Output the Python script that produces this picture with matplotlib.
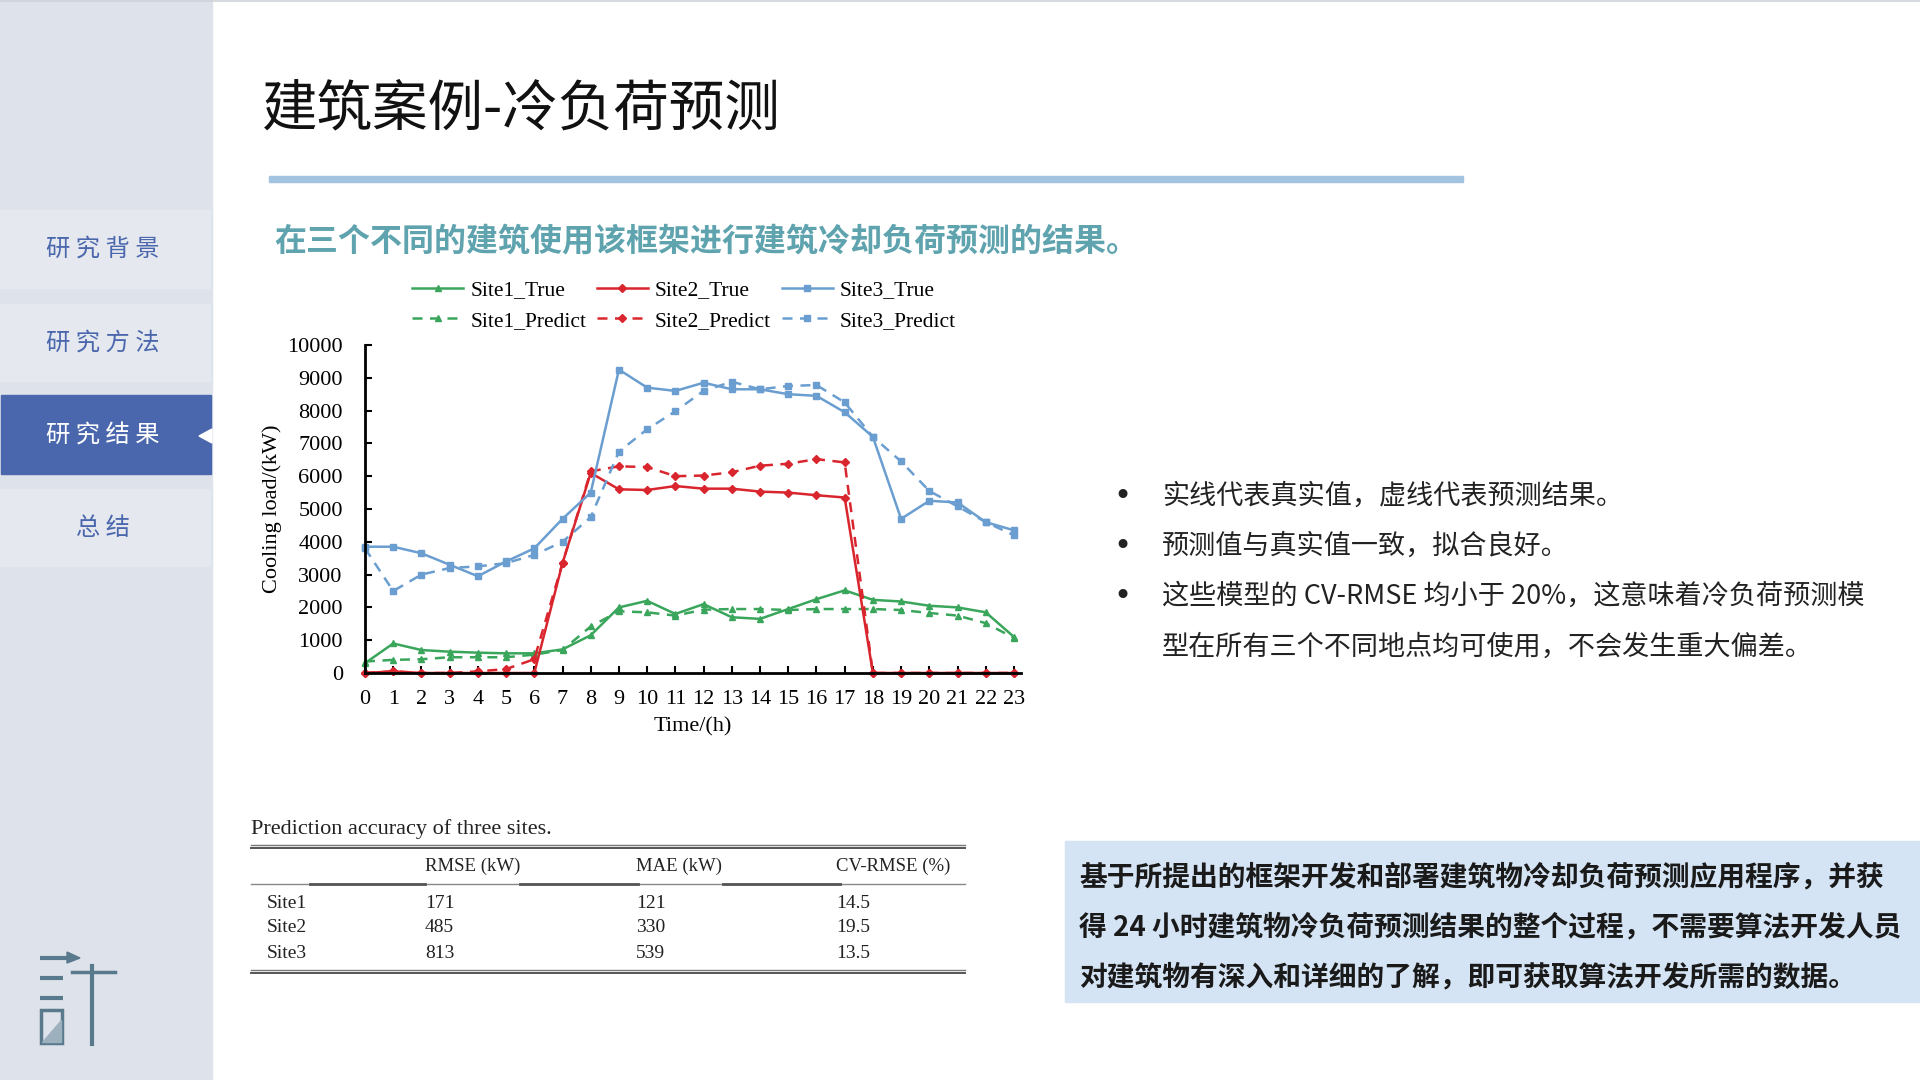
import matplotlib
matplotlib.use("Agg")
import matplotlib.pyplot as plt
from matplotlib.patches import Rectangle, Polygon

CJK = ['Noto Sans CJK SC', 'DejaVu Sans']
SERIF = ['Liberation Serif', 'DejaVu Serif']
plt.rcParams['font.family'] = CJK

# ---------------- data ----------------
hours = list(range(24))
site1_true = [300, 900, 700, 650, 620, 600, 600, 720, 1150, 2000, 2200, 1800,
              2100, 1700, 1650, 1950, 2250, 2520, 2230, 2180, 2050, 2000, 1850, 1100]
site1_pred = [350, 400, 420, 480, 480, 480, 560, 700, 1420, 1880, 1850, 1750,
              1930, 1950, 1950, 1920, 1950, 1950, 1950, 1920, 1830, 1750, 1520, 1070]
site2_true = [0, 50, 0, 0, 0, 0, 0, 3350, 6100, 5600, 5580, 5700,
              5620, 5620, 5530, 5500, 5420, 5350, 0, 0, 0, 0, 0, 0]
site2_pred = [0, 50, 0, 0, 50, 120, 420, 3350, 6150, 6300, 6280, 6000,
              6020, 6120, 6320, 6380, 6520, 6420, 0, 0, 0, 0, 0, 0]
site3_true = [3850, 3850, 3650, 3300, 2950, 3400, 3800, 4700, 5500, 9250, 8700, 8600,
              8850, 8650, 8650, 8500, 8450, 7950, 7200, 4700, 5250, 5200, 4600, 4350]
site3_pred = [3800, 2500, 3000, 3200, 3250, 3350, 3600, 4000, 4750, 6750, 7430, 7980,
              8600, 8880, 8650, 8750, 8780, 8250, 7200, 6450, 5550, 5080, 4600, 4200]
y_ticks = [0, 1000, 2000, 3000, 4000, 5000, 6000, 7000, 8000, 9000, 10000]

table_title = "Prediction accuracy of three sites."
table_header = ["RMSE (kW)", "MAE (kW)", "CV-RMSE (%)"]
table_sites = ["Site1", "Site2", "Site3"]
table_rmse = [171, 485, 813]
table_mae = [121, 330, 539]
table_cv = [14.5, 19.5, 13.5]

menu_items = ["研究背景", "研究方法", "研究结果", "总结"]
active_menu = 2
page_title = "建筑案例-冷负荷预测"
subtitle = "在三个不同的建筑使用该框架进行建筑冷却负荷预测的结果。"
bullets = ["实线代表真实值，虚线代表预测结果。",
           "预测值与真实值一致，拟合良好。",
           "这些模型的 CV-RMSE 均小于 20%，这意味着冷负荷预测模\n型在所有三个不同地点均可使用，不会发生重大偏差。"]
box_lines = ["基于所提出的框架开发和部署建筑物冷却负荷预测应用程序，并获",
             "得 24 小时建筑物冷负荷预测结果的整个过程，不需要算法开发人员",
             "对建筑物有深入和详细的了解，即可获取算法开发所需的数据。"]

# ---------------- figure ----------------
W, H = 1920, 1080
fig = plt.figure(figsize=(19.2, 10.8), dpi=100, facecolor='white')
bg = fig.add_axes([0, 0, 1, 1])
bg.set_xlim(0, W)
bg.set_ylim(H, 0)
bg.axis('off')

# sidebar
bg.add_patch(Rectangle((0, 0), 212, H, color='#DEE2EA', zorder=0))
bg.plot([0, W], [0.5, 0.5], color='#D0D4DA', lw=1.2, zorder=1)
menu_boxes = [(210, 288), (304, 381), (395, 474), (489, 566)]
menu_y = [249, 343, 436, 528]
for i, (label, (y0, y1), yc) in enumerate(zip(menu_items, menu_boxes, menu_y)):
    if i == active_menu:
        bg.add_patch(Rectangle((1, y0), 210, y1 - y0, color='#4A67AE', zorder=1))
        bg.add_patch(Polygon([[199, yc], [212, yc - 7], [212, yc + 7]],
                             closed=True, color='white', zorder=2))
        col = 'white'
    else:
        bg.add_patch(Rectangle((0, y0), 210, y1 - y0, color='#E5E8EE', zorder=1))
        col = '#4A67AE'
    bg.text(103, yc, " ".join(label), ha='center', va='center', fontsize=17.5,
            color=col, family=CJK, zorder=3)

# logo
lc = '#587A8C'
for yy, x1 in [(958, 70), (978, 63), (998, 63)]:
    bg.plot([40, x1], [yy, yy], color=lc, lw=3, solid_capstyle='butt')
bg.add_patch(Polygon([[67, 952], [80, 958], [67, 963]], closed=True, color=lc))
bg.add_patch(Rectangle((41, 1010), 21, 33, fill=False, ec=lc, lw=2.5))
bg.add_patch(Polygon([[42, 1042], [61, 1042], [61, 1020]], closed=True, color='#9DB0BE'))
bg.plot([72, 115], [972, 972], color=lc, lw=2.5)
bg.plot([92, 92], [966, 1044], color=lc, lw=3)

# title
bg.text(262, 110, page_title, fontsize=40, color='#111111', va='center', ha='left', family=CJK)
bg.add_patch(Rectangle((269, 176), 1194, 6, color='#A3C4E0'))
bg.text(274, 241, subtitle, fontsize=23, color='#5EA3AE', fontweight='bold',
        va='center', ha='left', family=CJK)

# bullets
by = [496, 546, 596]
for yy, t in zip(by, bullets):
    bg.text(1122, yy, "•", fontsize=22, color='#222222', va='center', ha='center',
            family=['DejaVu Sans'])
    for k, ln in enumerate(t.split("\n")):
        bg.text(1162, yy + k * 51, ln, fontsize=19.5, color='#222222', va='center',
                ha='left', family=CJK)

# bottom-right box
bg.add_patch(Rectangle((1065, 841), 855, 161, color='#D5E4F4'))
for k, ln in enumerate(box_lines):
    bg.text(1079, 877 + k * 50, ln, fontsize=20, fontweight='bold', color='#1A1A1A',
            va='center', ha='left', family=CJK)

# table
tc = '#222222'
bg.text(251, 829, table_title, fontsize=16, family=SERIF, color=tc, va='center')
bg.plot([251, 965], [845, 845], color='#777777', lw=1.0)
bg.plot([251, 965], [848, 848], color='#555555', lw=1.4)
bg.plot([251, 965], [884, 884], color='#888888', lw=1.0)
for xa, xb in [(310, 425), (520, 638), (723, 840)]:
    bg.plot([xa, xb], [884, 884], color='#555555', lw=2.0)
bg.plot([251, 965], [970, 970], color='#777777', lw=1.0)
bg.plot([251, 965], [973, 973], color='#555555', lw=1.4)
col_x = [425, 636, 836]
for cx, h in zip(col_x, table_header):
    bg.text(cx, 866, h, fontsize=13.5, family=SERIF, color=tc, va='center')
row_y = [904, 928, 953]
for ry, s, a, b, c in zip(row_y, table_sites, table_rmse, table_mae, table_cv):
    bg.text(267, ry, s, fontsize=14, family=SERIF, color=tc, va='center')
    bg.text(col_x[0], ry, f"{a}", fontsize=14, family=SERIF, color=tc, va='center')
    bg.text(col_x[1], ry, f"{b}", fontsize=14, family=SERIF, color=tc, va='center')
    bg.text(col_x[2], ry, f"{c}", fontsize=14, family=SERIF, color=tc, va='center')

# ---------------- chart ----------------
x0, x1, yb, yt = 365, 1021, 673, 345
ax = fig.add_axes([x0 / W, 1 - yb / H, (x1 - x0) / W, (yb - yt) / H])
ax.set_facecolor('none')
green, red, blue = '#3AA65C', '#D9262E', '#6B9ED0'
series = [
    (site1_true, green, '-', '^', 'Site1_True'),
    (site1_pred, green, (0, (4, 3)), '^', 'Site1_Predict'),
    (site2_true, red, '-', 'D', 'Site2_True'),
    (site2_pred, red, (0, (4, 3)), 'D', 'Site2_Predict'),
    (site3_true, blue, '-', 's', 'Site3_True'),
    (site3_pred, blue, (0, (4, 3)), 's', 'Site3_Predict'),
]
handles = []
for vals, c, ls, mk, lab in series:
    h, = ax.plot(hours, vals, color=c, ls=ls, marker=mk, lw=1.8,
                 markersize=5 if mk != 'D' else 4.5, clip_on=False, label=lab)
    handles.append(h)
ax.set_xlim(0, 23.25)
ax.set_ylim(0, 10000)
ax.set_xticks(hours)
ax.set_yticks(y_ticks)
ax.spines['top'].set_visible(False)
ax.spines['right'].set_visible(False)
for s in ['left', 'bottom']:
    ax.spines[s].set_linewidth(2)
ax.tick_params(direction='in', length=5, width=1.5, labelsize=16)
ax.tick_params(axis='x', pad=12)
ax.tick_params(axis='y', pad=16)
for lab in ax.get_xticklabels() + ax.get_yticklabels():
    lab.set_family(SERIF)
ax.set_xlabel("Time/(h)", family=SERIF, fontsize=16, labelpad=6)
ax.set_ylabel("Cooling load/(kW)", family=SERIF, fontsize=16, labelpad=4)

fig.legend(handles=handles, loc='upper left', bbox_to_anchor=(412 / W, 1 - 280 / H),
           ncol=3, frameon=False, prop={'family': SERIF, 'size': 15.5},
           handlelength=2.37, handletextpad=0.33, columnspacing=0.5,
           labelspacing=0.5, borderpad=0, borderaxespad=0)

fig.savefig("out.png", dpi=100, facecolor='white')
